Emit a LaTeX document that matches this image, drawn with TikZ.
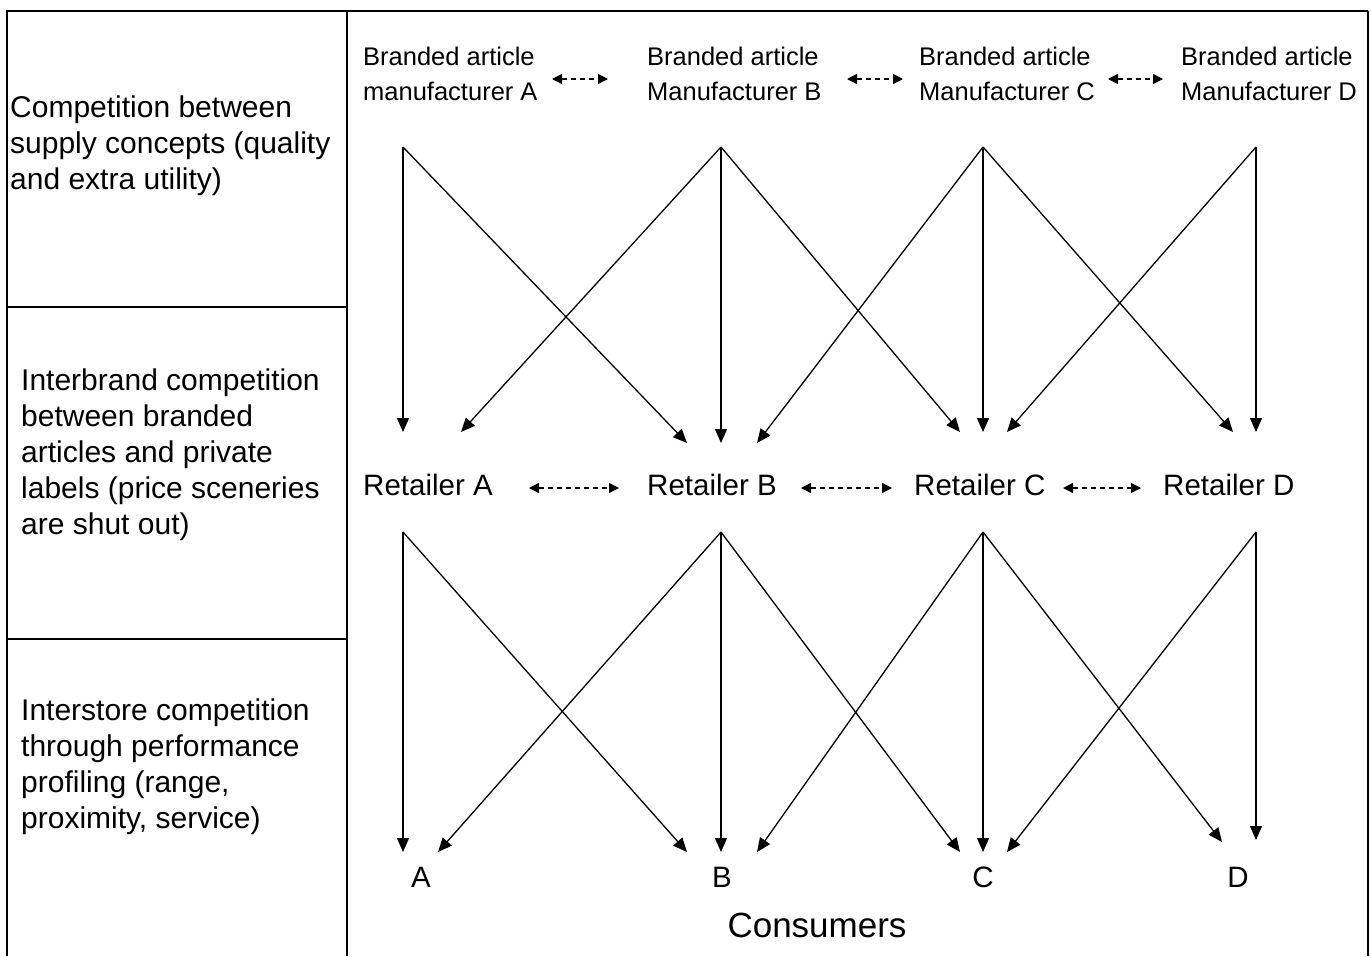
\documentclass[tikz,border=0pt]{standalone}
\usepackage{fontspec}
\setmainfont{Liberation Sans}
\usetikzlibrary{arrows.meta}

\begin{document}
\begin{tikzpicture}[x=1pt,y=-1pt,
  flow/.style={line width=1.3pt,-{Triangle[length=14pt,width=12pt]}},
  rival/.style={line width=1.3pt,dash pattern=on 5pt off 4pt,
    {Triangle[length=10pt,width=10pt]}-{Triangle[length=10pt,width=10pt]}},
  side/.style={anchor=north west,inner sep=0pt,align=left,font=\fontsize{30}{36}\selectfont},
  maker/.style={anchor=north west,inner sep=0pt,align=left,font=\fontsize{25.5}{35}\selectfont},
  shop/.style={anchor=base west,inner sep=0pt,font=\fontsize{29.5}{35}\selectfont},
  buyer/.style={anchor=base,inner sep=0pt,font=\fontsize{29.5}{35}\selectfont}]
  \useasboundingbox (0,0) rectangle (1371,956);
  % der Rahmen
  \draw[line width=2pt] (7,956) -- (7,11) -- (1368,11);
  \draw[line width=1.6pt] (1368,11) -- (1368,956);
  \draw[line width=2pt] (347,11) -- (347,956);
  \draw[line width=1.5pt] (7,307) -- (347,307);
  \draw[line width=1.5pt] (7,639) -- (347,639);
  % linke Spalte
  \node[side] (lvl1) at (10,96) {Competition between\\supply concepts (quality\\and extra utility)};
  \node[side] (lvl2) at (21,369) {Interbrand competition\\between branded\\articles and private\\labels (price sceneries\\are shut out)};
  \node[side] (lvl3) at (21,699) {Interstore competition\\through performance\\profiling (range,\\proximity, service)};
  % Hersteller
  \node[maker] (mA) at (363,46.4) {Branded article\\manufacturer A};
  \node[maker] (mB) at (647,46.4) {Branded article\\Manufacturer B};
  \node[maker] (mC) at (919,46.4) {Branded article\\Manufacturer C};
  \node[maker] (mD) at (1181,46.4) {Branded article\\Manufacturer D};
  % Handel
  \node[shop] (hA) at (363,495) {Retailer A};
  \node[shop] (hB) at (647,495) {Retailer B};
  \node[shop] (hC) at (914,495) {Retailer C};
  \node[shop] (hD) at (1163,495) {Retailer D};
  % Konsumenten
  \node[buyer] (kA) at (421,887) {A};
  \node[buyer] (kB) at (722,887) {B};
  \node[buyer] (kC) at (983,887) {C};
  \node[buyer] (kD) at (1238,887) {D};
  \node[anchor=base,inner sep=0pt,font=\fontsize{35}{40}\selectfont] (kAll) at (817,937) {Consumers};
  % Punkte fuer die Pfeile
  \foreach \n/\x in {A/403, B/721, C/983, D/1256} {
    \coordinate (mo\n) at (\x,147);
    \coordinate (ho\n) at (\x,532);
  }
  \coordinate (hiA1) at (403,432); \coordinate (hiA2) at (461,432);
  \coordinate (hiB1) at (687,443); \coordinate (hiB2) at (721,443); \coordinate (hiB3) at (757,443);
  \coordinate (hiC1) at (960,432); \coordinate (hiC2) at (983,432); \coordinate (hiC3) at (1007,432);
  \coordinate (hiD1) at (1233,432); \coordinate (hiD2) at (1256,432);
  \coordinate (kiA1) at (403,852); \coordinate (kiA2) at (438,852);
  \coordinate (kiB1) at (687,852); \coordinate (kiB2) at (721,852); \coordinate (kiB3) at (757,852);
  \coordinate (kiC1) at (960,852); \coordinate (kiC2) at (983,852); \coordinate (kiC3) at (1007,852);
  \coordinate (kiD1) at (1222,842); \coordinate (kiD2) at (1256,840);
  % Lieferwege
  \foreach \a/\b in {moA/hiA1, moA/hiB1, moB/hiA2, moB/hiB2, moB/hiC1, moC/hiB3, moC/hiC2, moC/hiD1, moD/hiC3, moD/hiD2,
                     hoA/kiA1, hoA/kiB1, hoB/kiA2, hoB/kiB2, hoB/kiC1, hoC/kiB3, hoC/kiC2, hoC/kiD1, hoD/kiC3, hoD/kiD2}
    \draw[flow] (\a) -- (\b);
  % Wettbewerb
  \coordinate (wm1) at (552,79); \coordinate (wm2) at (608,79);
  \coordinate (wm3) at (847,79); \coordinate (wm4) at (903,79);
  \coordinate (wm5) at (1108,79); \coordinate (wm6) at (1163,79);
  \coordinate (wh1) at (529,488); \coordinate (wh2) at (619,488);
  \coordinate (wh3) at (801,488); \coordinate (wh4) at (892,488);
  \coordinate (wh5) at (1063,488); \coordinate (wh6) at (1141,488);
  \foreach \a/\b in {wm1/wm2, wm3/wm4, wm5/wm6, wh1/wh2, wh3/wh4, wh5/wh6}
    \draw[rival] (\a) -- (\b);
\end{tikzpicture}
\end{document}
